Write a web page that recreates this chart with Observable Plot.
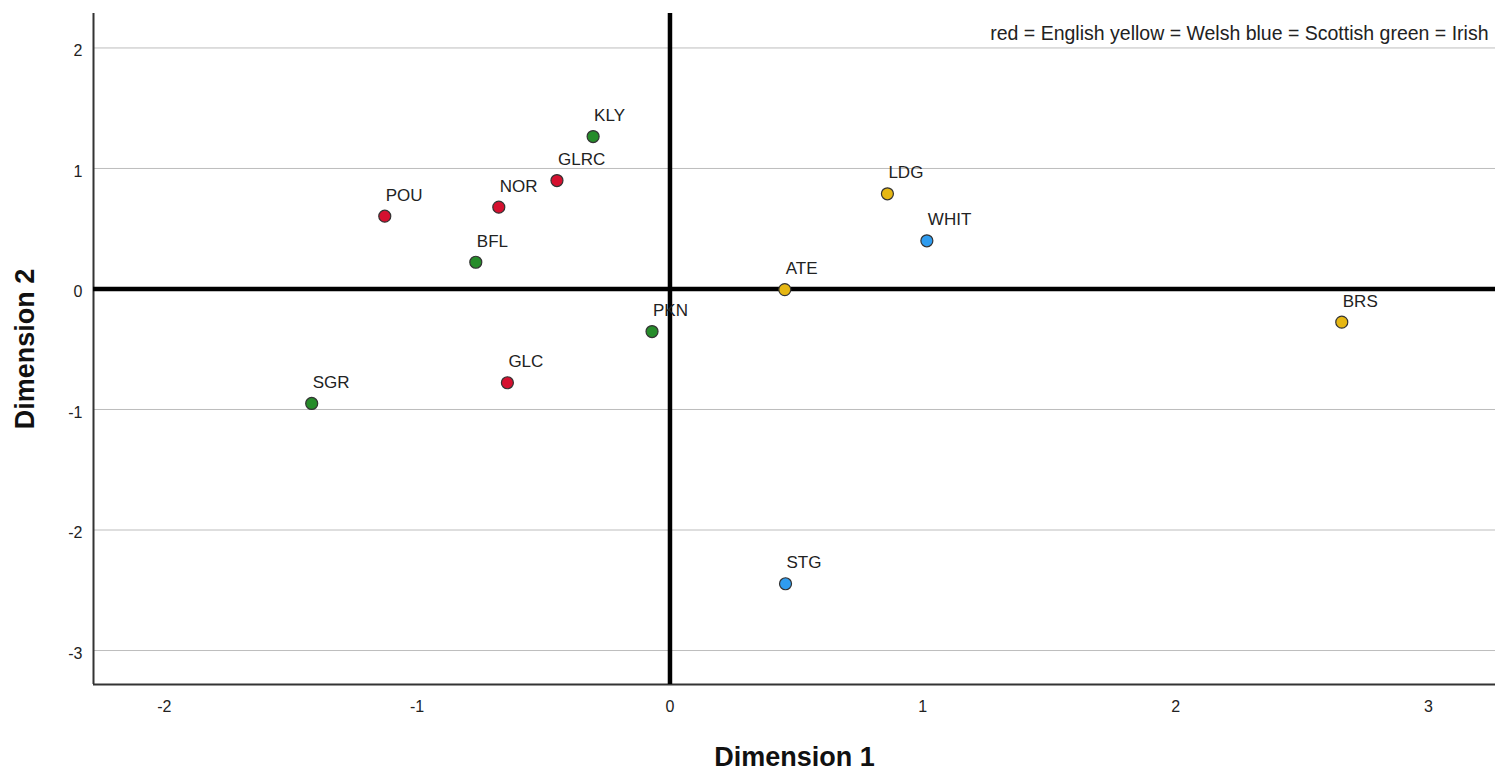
<!DOCTYPE html>
<html>
<head>
<meta charset="utf-8">
<script src="https://cdn.jsdelivr.net/npm/d3@7"></script>
<script src="https://cdn.jsdelivr.net/npm/@observablehq/plot@0.6"></script>
<style>
  html, body { margin: 0; padding: 0; background: #fff; }
  #chart svg { display: block; }
</style>
</head>
<body>
<div id="chart"></div>
<script>
// Two-dimensional configuration of the clubs; colour marks the nation.
const codes   = ["KLY", "GLRC", "NOR", "POU", "BFL", "PKN", "GLC", "SGR", "ATE", "LDG", "WHIT", "BRS", "STG"];
const dim1    = [-0.304, -0.447, -0.677, -1.128, -0.768, -0.071, -0.643, -1.417, 0.454, 0.860, 1.016, 2.657, 0.457];
const dim2    = [1.265, 0.900, 0.679, 0.604, 0.222, -0.353, -0.778, -0.950, -0.005, 0.790, 0.400, -0.275, -2.446];
const nations = ["Irish", "English", "English", "English", "Irish", "Irish", "English", "Irish", "Welsh", "Welsh", "Scottish", "Welsh", "Scottish"];

const nationOrder  = ["English", "Welsh", "Scottish", "Irish"];
const nationColors = ["#d5102f", "#e6b713", "#2f9cef", "#268c2a"];

const xTicks = [-2, -1, 0, 1, 2, 3];
const yTicks = [-3, -2, -1, 0, 1, 2];
const xDomain = [-2.28, 3.265];
const yDomain = [-3.282, 2.286];

const legendText = "red = English yellow = Welsh blue = Scottish green = Irish";
const xTitle = "Dimension 1";
const yTitle = "Dimension 2";

const points = codes.map((code, i) => ({code, d1: dim1[i], d2: dim2[i], nation: nations[i]}));

const font = "'Liberation Sans', Arial, sans-serif";

const chart = Plot.plot({
  width: 1495,
  height: 773,
  marginLeft: 93,
  marginRight: 0,
  marginTop: 13,
  marginBottom: 89,
  style: {fontFamily: font, fontSize: "16px", color: "#222", background: "#fff"},
  x: {domain: xDomain, label: null},
  y: {domain: yDomain, label: null},
  color: {domain: nationOrder, range: nationColors},
  marks: [
    Plot.gridY(yTicks, {stroke: "#bdbdbd", strokeOpacity: 1, strokeWidth: 1}),
    Plot.axisX(xTicks, {tickSize: 0, tickPadding: 16, label: null, tickFormat: d => String(d), fontSize: 16}),
    Plot.axisY(yTicks, {tickSize: 0, tickPadding: 11, label: null, tickFormat: d => String(d), fontSize: 16, dy: 3}),
    Plot.ruleX([xDomain[0]], {stroke: "#333", strokeWidth: 2}),
    Plot.ruleY([yDomain[0]], {stroke: "#333", strokeWidth: 2}),
    Plot.ruleX([0], {stroke: "#000", strokeWidth: 4.5}),
    Plot.ruleY([0], {stroke: "#000", strokeWidth: 4.5}),
    Plot.dot(points, {x: "d1", y: "d2", fill: "nation", r: 6, stroke: "#333", strokeWidth: 1.2}),
    Plot.text(points, {x: "d1", y: "d2", text: "code", textAnchor: "start", dx: 1, dy: -21, fontSize: 17, fill: "#222"}),
    Plot.text([legendText], {frameAnchor: "top-right", textAnchor: "end", lineAnchor: "middle", dx: -7, dy: 20, fontSize: 19.5, fill: "#222"}),
    Plot.text([xTitle], {frameAnchor: "bottom", textAnchor: "middle", lineAnchor: "middle", dy: 73, fontSize: 27, fontWeight: "bold", fill: "#111"}),
    Plot.text([yTitle], {frameAnchor: "left", textAnchor: "middle", lineAnchor: "middle", rotate: -90, dx: -68, fontSize: 27, fontWeight: "bold", fill: "#111"})
  ]
});

document.getElementById("chart").appendChild(chart);
</script>
</body>
</html>
